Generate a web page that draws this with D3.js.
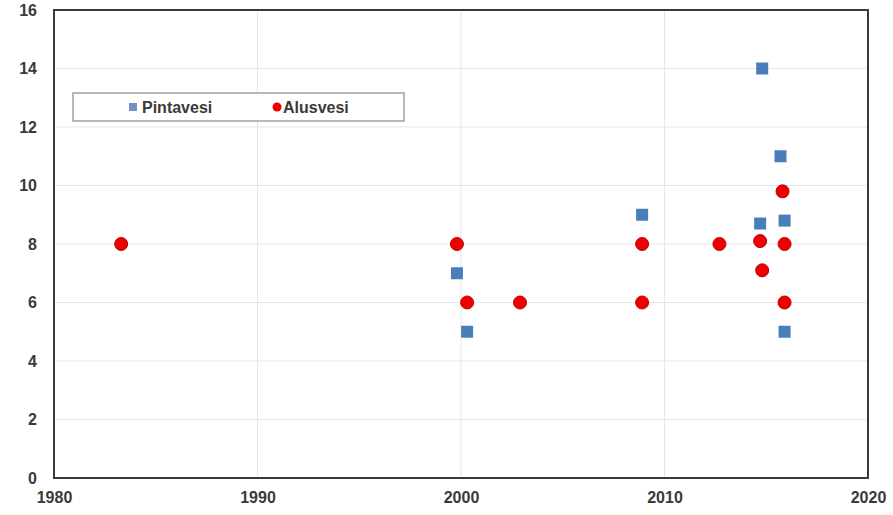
<!DOCTYPE html>
<html lang="en">
<head>
  <meta charset="UTF-8">
  <title>Pintavesi / Alusvesi</title>
  <script src="https://cdn.jsdelivr.net/npm/d3@7/dist/d3.min.js"></script>
  <style>
    html, body { margin: 0; padding: 0; background: #fff; }
    svg { display: block; font-family: "Liberation Sans", Arial, sans-serif; }
    .tick text { font-size: 16px; font-weight: bold; fill: #3a3a3a; }
  </style>
</head>
<body>
<svg id="chart"></svg>
<script>
  // data
  const pintaYears  = [1999.8, 2000.3, 2008.9, 2014.8, 2015.7, 2014.7, 2015.9, 2015.9]
  const pintaValues = [7, 5, 9, 14, 11, 8.7, 8.8, 5]
  const alusYears  = [1983.3, 1999.8, 2000.3, 2002.9, 2008.9, 2008.9, 2012.7, 2014.7, 2014.8, 2015.8, 2015.9, 2015.9]
  const alusValues = [8, 8, 6, 6, 8, 6, 8, 8.1, 7.1, 9.8, 8, 6]
  const xTicks = [1980, 1990, 2000, 2010, 2020]
  const yTicks = [0, 2, 4, 6, 8, 10, 12, 14, 16]

  const width = 893, height = 515
  const m = { left: 54, right: 25, top: 10, bottom: 37 }

  const svg = d3.select("#chart").attr("width", width).attr("height", height)

  const x = d3.scaleLinear().domain([1980, 2020]).range([m.left, width - m.right])
  const y = d3.scaleLinear().domain([0, 16]).range([height - m.bottom, m.top])

  // gridlines
  svg.append("g")
    .selectAll("line.gy").data(yTicks).join("line")
    .attr("x1", m.left).attr("x2", width - m.right)
    .attr("y1", d => y(d)).attr("y2", d => y(d))
    .attr("stroke", "#e6e6e6").attr("stroke-width", 1)
  svg.append("g")
    .selectAll("line.gx").data(xTicks).join("line")
    .attr("y1", m.top).attr("y2", height - m.bottom)
    .attr("x1", d => x(d)).attr("x2", d => x(d))
    .attr("stroke", "#e6e6e6").attr("stroke-width", 1)

  // axes (labels only, frame drawn separately)
  svg.append("g")
    .attr("transform", `translate(${m.left},0)`)
    .call(d3.axisLeft(y).tickValues(yTicks).tickSize(0).tickPadding(17))
    .call(g => g.select(".domain").remove())
  svg.append("g")
    .attr("transform", `translate(0,${height - m.bottom})`)
    .call(d3.axisBottom(x).tickValues(xTicks).tickFormat(d3.format("d")).tickSize(0).tickPadding(14))
    .call(g => g.select(".domain").remove())

  // plot frame
  svg.append("rect")
    .attr("x", m.left).attr("y", m.top)
    .attr("width", width - m.right - m.left).attr("height", height - m.bottom - m.top)
    .attr("fill", "none").attr("stroke", "#3a3a3a").attr("stroke-width", 2)

  const blue = "#4a7ebb", red = "#ee0000"

  // Pintavesi squares
  const sq = 12
  svg.append("g")
    .selectAll("rect").data(d3.zip(pintaYears, pintaValues)).join("rect")
    .attr("x", d => x(d[0]) - sq / 2).attr("y", d => y(d[1]) - sq / 2)
    .attr("width", sq).attr("height", sq)
    .attr("fill", blue)

  // Alusvesi circles
  svg.append("g")
    .selectAll("circle").data(d3.zip(alusYears, alusValues)).join("circle")
    .attr("cx", d => x(d[0])).attr("cy", d => y(d[1])).attr("r", 6.5)
    .attr("fill", red).attr("stroke", "#c00000").attr("stroke-width", 1)

  // legend
  const lg = svg.append("g")
  lg.append("rect").attr("x", 73).attr("y", 93).attr("width", 331).attr("height", 28)
    .attr("fill", "#fff").attr("stroke", "#8a8a8a").attr("stroke-width", 1.2)
  lg.append("rect").attr("x", 129).attr("y", 103).attr("width", 8).attr("height", 8).attr("fill", "#7092be")
  lg.append("text").attr("x", 142).attr("y", 113).text("Pintavesi")
    .attr("font-size", 16).attr("font-weight", "bold").attr("fill", "#3a3a3a")
  lg.append("circle").attr("cx", 277).attr("cy", 107).attr("r", 4.5).attr("fill", red)
  lg.append("text").attr("x", 283).attr("y", 113).text("Alusvesi")
    .attr("font-size", 16).attr("font-weight", "bold").attr("fill", "#3a3a3a")
</script>
</body>
</html>
